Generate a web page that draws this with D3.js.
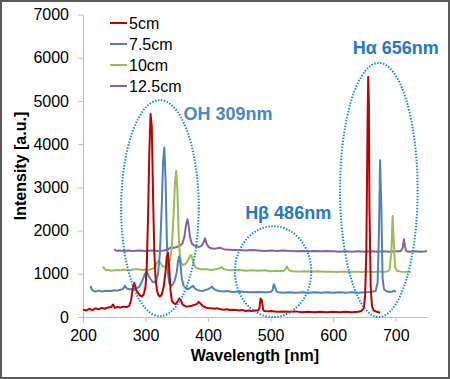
<!DOCTYPE html>
<meta charset="utf-8">
<style>
  body { margin: 0; background: #fff; }
  svg { display: block; font-family: "Liberation Sans", Arial, sans-serif; }
  .axis path, .axis line { stroke: #bfbfbf; }
  .axis text { font-size: 16px; fill: #000; }
</style>
<body>
<script src="https://cdn.jsdelivr.net/npm/d3@7"></script>
<script>
// legend names
var seriesNames = ["5cm", "7.5cm", "10cm", "12.5cm"];

// spectra: [wavelength nm, intensity a.u.]
var spec5 = [[200,170],[205,150],[210,190],[215,160],[220,200],[225,180],[230,210],[235,190],[240,220],[245,230],[248,290],[251,210],[255,230],[260,220],[265,240],[270,230],[274,260],[277,400],[280,700],[282,790],[285,620],[288,560],[291,500],[294,470],[297,520],[300,700],[302,1200],[304,2300],[306,3800],[308,4700],[310,4400],[312,2800],[314,1500],[316,900],[318,650],[320,520],[323,470],[326,520],[329,700],[332,1050],[334,1400],[336,1480],[338,1100],[340,600],[342,380],[345,320],[348,300],[351,350],[354,430],[356,400],[359,300],[362,260],[366,240],[370,250],[374,260],[378,280],[382,300],[385,350],[388,310],[392,250],[396,220],[400,210],[405,200],[410,190],[415,200],[420,180],[425,170],[430,180],[435,160],[440,170],[445,160],[450,150],[455,160],[460,140],[465,150],[470,140],[475,150],[480,150],[482,200],[484,430],[486,380],[488,170],[490,140],[495,130],[500,140],[510,120],[520,130],[530,120],[540,130],[550,110],[560,120],[570,110],[580,120],[590,110],[600,120],[610,110],[620,120],[630,110],[640,120],[645,140],[649,200],[651,500],[653,1500],[655,4500],[656,5560],[657,5000],[658,2500],[660,700],[662,250],[665,150],[670,120],[675,100]];

var spec75 = [[212,720],[214,640],[217,600],[220,590],[225,610],[230,590],[235,600],[240,610],[245,600],[250,620],[255,610],[260,630],[264,650],[267,720],[270,660],[275,640],[280,650],[285,660],[290,700],[293,780],[296,880],[299,1000],[302,1050],[305,950],[308,880],[311,820],[314,800],[317,850],[320,1000],[323,1500],[326,2600],[328,3600],[330,3920],[332,3200],[334,1800],[336,1000],[338,780],[341,720],[344,760],[347,860],[350,1050],[352,1300],[354,1400],[356,1200],[358,880],[361,720],[364,680],[367,650],[370,660],[373,690],[376,720],[379,660],[383,620],[387,610],[391,600],[395,620],[399,640],[403,670],[406,700],[409,650],[413,620],[418,600],[425,590],[430,600],[440,580],[450,590],[460,580],[470,570],[480,580],[490,570],[500,580],[503,620],[505,760],[507,700],[509,600],[512,570],[520,560],[530,570],[540,560],[550,570],[560,560],[570,570],[580,560],[590,570],[600,560],[610,570],[620,560],[630,570],[640,560],[650,570],[660,580],[668,600],[671,800],[673,1800],[675,3630],[677,2500],[679,900],[681,650],[685,600],[690,580],[695,590],[698,610],[700,580]];

var spec10 = [[232,1170],[234,1120],[237,1080],[240,1090],[245,1070],[250,1080],[255,1090],[260,1080],[265,1100],[270,1090],[275,1080],[280,1100],[285,1110],[290,1100],[295,1090],[300,1100],[305,1090],[310,1110],[315,1150],[318,1250],[321,1300],[324,1250],[327,1180],[330,1160],[333,1170],[336,1200],[339,1300],[342,1600],[345,2400],[347,3100],[349,3380],[351,2900],[353,1900],[355,1400],[357,1250],[360,1200],[363,1220],[366,1260],[369,1350],[372,1430],[374,1400],[377,1220],[380,1150],[384,1120],[388,1110],[392,1100],[396,1110],[400,1100],[405,1090],[410,1100],[415,1110],[419,1130],[422,1160],[425,1110],[430,1090],[440,1080],[450,1090],[460,1070],[470,1080],[480,1070],[490,1080],[500,1060],[510,1070],[520,1060],[523,1090],[526,1170],[529,1080],[535,1060],[545,1050],[555,1060],[565,1050],[575,1060],[585,1050],[595,1050],[605,1040],[615,1050],[625,1040],[635,1050],[645,1040],[655,1050],[665,1040],[675,1050],[685,1050],[690,1080],[693,1500],[695,2340],[697,1700],[699,1150],[702,1070],[708,1050],[715,1040],[720,1050],[724,1040]];

var spec125 = [[250,1570],[253,1530],[258,1540],[265,1530],[272,1540],[280,1530],[290,1540],[300,1530],[310,1540],[320,1530],[330,1540],[336,1560],[340,1610],[345,1600],[350,1620],[355,1650],[359,1700],[362,1850],[365,2150],[367,2260],[369,2100],[371,1850],[374,1700],[377,1660],[381,1640],[385,1620],[389,1640],[392,1700],[395,1820],[398,1680],[401,1620],[405,1590],[410,1580],[415,1590],[420,1600],[425,1570],[430,1560],[440,1550],[450,1550],[460,1540],[470,1550],[480,1540],[490,1530],[500,1540],[510,1530],[520,1540],[530,1530],[540,1520],[550,1530],[560,1520],[570,1530],[580,1520],[590,1530],[600,1520],[610,1510],[620,1520],[630,1510],[640,1520],[650,1510],[660,1520],[670,1510],[680,1520],[690,1510],[700,1520],[708,1520],[711,1600],[713,1800],[715,1620],[717,1520],[722,1510],[730,1520],[740,1510],[750,1520]];

var xTicks = [200, 300, 400, 500, 600, 700];
var yTicks = [0, 1000, 2000, 3000, 4000, 5000, 6000, 7000];

// annotations: label, ellipse centre / radii in data units
var noteLabels = ["OH 309nm", "H\u03b2 486nm", "H\u03b1 656nm"];
var noteEllipses = [[323, 2520, 62, 2500], [504, 1050, 61, 1050], [673, 2940, 62, 2940]];
var noteTextAt = [[432, 4560], [528, 2270], [700, 6080]];

var colors = ["#c00000", "#4f81bd", "#9bbb59", "#8064a2"];
var noteColors = ["#4a86c8", "#2478c4", "#2478c4"];

var width = 450, height = 379;

var svg = d3.select("body").append("svg")
  .attr("width", width)
  .attr("height", height);

// outer frame
svg.append("rect")
  .attr("x", 1).attr("y", 1)
  .attr("width", width - 2).attr("height", height - 2)
  .attr("fill", "#fff")
  .attr("stroke", "#595959")
  .attr("stroke-width", 2);

var x = d3.scaleLinear().domain([200, 750]).range([83, 427]);
var y = d3.scaleLinear().domain([0, 7000]).range([317, 14.5]);

svg.append("g")
  .attr("class", "axis")
  .attr("transform", "translate(0," + y(0) + ")")
  .call(d3.axisBottom(x).tickValues(xTicks).tickFormat(d3.format("d"))
    .tickSize(5).tickSizeOuter(0).tickPadding(8));

svg.append("g")
  .attr("class", "axis")
  .attr("transform", "translate(" + x(200) + ",0)")
  .call(d3.axisLeft(y).tickValues(yTicks).tickFormat(d3.format("d"))
    .tickSize(5).tickSizeOuter(0).tickPadding(9));

// axis titles
svg.append("text")
  .attr("x", 255).attr("y", 361)
  .attr("text-anchor", "middle")
  .style("font-size", "16px").style("font-weight", "bold")
  .text("Wavelength [nm]");

svg.append("text")
  .attr("transform", "translate(26,166) rotate(-90)")
  .attr("text-anchor", "middle")
  .style("font-size", "16px").style("font-weight", "bold")
  .text("Intensity [a.u.]");

var line = d3.line()
  .x(function(d){ return x(d[0]); })
  .y(function(d){ return y(d[1]); });

var allSpectra = [spec5, spec75, spec10, spec125];

// draw back to front so red sits on top
for (var i = allSpectra.length - 1; i >= 0; i--) {
  svg.append("path")
    .datum(allSpectra[i])
    .attr("fill", "none")
    .attr("stroke", colors[i])
    .attr("stroke-width", 2)
    .attr("stroke-linejoin", "round")
    .attr("d", line);
}

// dotted ellipses and labels
noteEllipses.forEach(function(e, i){
  svg.append("ellipse")
    .attr("cx", x(e[0]))
    .attr("cy", y(e[1]))
    .attr("rx", x(e[0] + e[2]) - x(e[0]))
    .attr("ry", y(0) - y(e[3]))
    .attr("fill", "none")
    .attr("stroke", "#1a8ad8")
    .attr("stroke-width", 2)
    .attr("stroke-dasharray", "1.5,1.5");

  svg.append("text")
    .attr("x", x(noteTextAt[i][0]))
    .attr("y", y(noteTextAt[i][1]))
    .attr("text-anchor", "middle")
    .attr("fill", noteColors[i])
    .style("font-size", "18px").style("font-weight", "bold")
    .text(noteLabels[i]);
});

// legend
var legend = svg.append("g").attr("transform", "translate(110,23)");
seriesNames.forEach(function(n, i){
  var g = legend.append("g").attr("transform", "translate(0," + (i * 21) + ")");
  g.append("line")
    .attr("x1", 0).attr("x2", 17)
    .attr("stroke", colors[i]).attr("stroke-width", 2);
  g.append("text")
    .attr("x", 19).attr("dy", "0.35em")
    .style("font-size", "16px")
    .text(n);
});
</script>
</body>
